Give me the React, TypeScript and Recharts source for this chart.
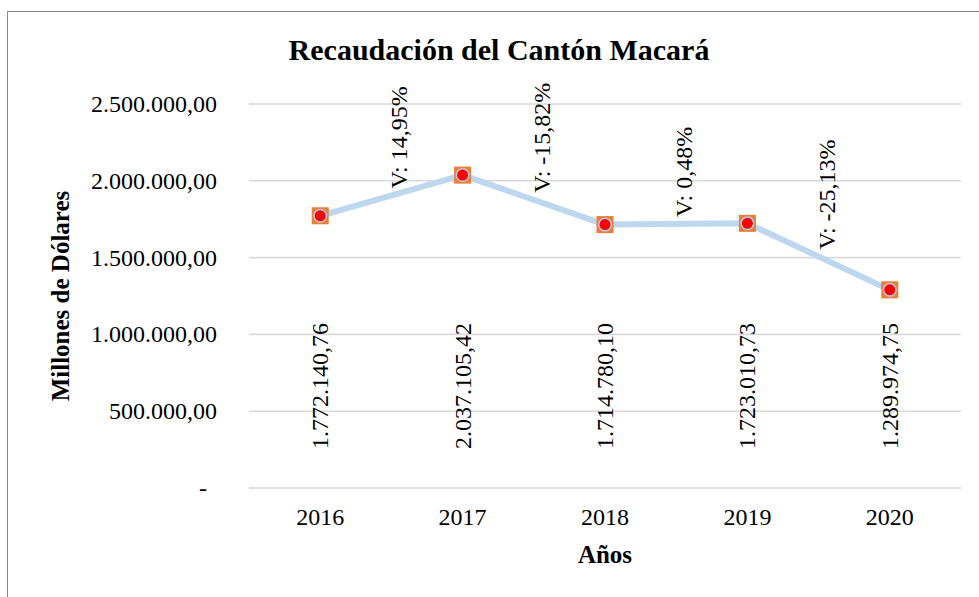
import React from 'react';
import { ComposedChart, Line, Scatter, XAxis, YAxis, CartesianGrid, LabelList } from 'recharts';

const years = ['2016', '2017', '2018', '2019', '2020'];
const values = [1772140.76, 2037105.42, 1714780.1, 1723010.73, 1289974.75];
const valueLabels = ['1.772.140,76', '2.037.105,42', '1.714.780,10', '1.723.010,73', '1.289.974,75'];
const variationLabels = ['V: 14,95%', 'V: -15,82%', 'V: 0,48%', 'V: -25,13%'];
const yTicks = [0, 500000, 1000000, 1500000, 2000000, 2500000];
const yTickLabels = ['-', '500.000,00', '1.000.000,00', '1.500.000,00', '2.000.000,00', '2.500.000,00'];
const xTicks = [0, 1, 2, 3, 4];

const rows = years.map((year, i) => ({ idx: i, year, value: values[i], label: valueLabels[i] }));
const varRows = variationLabels.map((text, i) => ({
  idx: i + 0.5,
  mid: (values[i] + values[i + 1]) / 2,
  text,
}));

const FONT = '"Liberation Serif", "Times New Roman", serif';

const YTick = (props: any) => {
  const { x, y, payload } = props;
  const i = yTicks.indexOf(payload.value);
  const text = i >= 0 ? yTickLabels[i] : '';
  const dx = payload.value === 0 ? -10 : 0;
  return (
    <text x={x + dx} y={y} textAnchor="end" dominantBaseline="central" fontFamily={FONT} fontSize={24} fill="#000">
      {text}
    </text>
  );
};

const XTick = (props: any) => {
  const { x, y, payload } = props;
  return (
    <text x={x} y={y + 17} textAnchor="middle" fontFamily={FONT} fontSize={24} fill="#000">
      {years[payload.value]}
    </text>
  );
};

const YLabel = (props: any) => {
  const vb = props.viewBox || { y: 104, height: 384 };
  const cx = 60;
  const cy = vb.y + vb.height / 2;
  return (
    <text
      x={cx}
      y={cy}
      transform={`rotate(-90 ${cx} ${cy})`}
      textAnchor="middle"
      dominantBaseline="central"
      fontFamily={FONT}
      fontWeight="bold"
      fontSize={25}
      fill="#000"
    >
      Millones de Dólares
    </text>
  );
};

const XLabel = (props: any) => {
  const vb = props.viewBox || { x: 249, width: 712, y: 488 };
  const cx = vb.x + vb.width / 2;
  return (
    <text x={cx} y={vb.y + 75} textAnchor="middle" fontFamily={FONT} fontWeight="bold" fontSize={25} fill="#000">
      Años
    </text>
  );
};

const Marker = (props: any) => {
  const { cx, cy } = props;
  if (cx == null || cy == null) return null;
  return (
    <g>
      <rect x={cx - 8.5} y={cy - 8.5} width={17} height={17} fill="#ED7D31" />
      <circle cx={cx} cy={cy} r={6.3} fill="#FF0000" stroke="#B4C7E7" strokeWidth={1.6} />
    </g>
  );
};

const ValueLabel = (props: any) => {
  const { x, value } = props;
  const cy = 386;
  return (
    <text
      x={x}
      y={cy}
      transform={`rotate(-90 ${x} ${cy})`}
      textAnchor="middle"
      dominantBaseline="central"
      fontFamily={FONT}
      fontSize={24}
      fill="#000"
    >
      {value}
    </text>
  );
};

const VarShape = (props: any) => {
  const { cx, cy, payload } = props;
  if (cx == null || cy == null) return null;
  const x = cx + 8;
  const y = cy - 7;
  return (
    <text
      x={x}
      y={y}
      transform={`rotate(-90 ${x} ${y})`}
      textAnchor="start"
      dominantBaseline="central"
      fontFamily={FONT}
      fontSize={24}
      fill="#000"
    >
      {payload.text}
    </text>
  );
};

export default function App() {
  return (
    <div style={{ position: 'absolute', left: 0, top: 0, width: 979, height: 597, background: '#fff', overflow: 'hidden' }}>
      <div
        style={{
          position: 'absolute',
          left: 7,
          top: 11,
          width: 1000,
          height: 700,
          borderLeft: '1px solid #8a8a8a',
          borderTop: '1px solid #8a8a8a',
        }}
      />
      <div
        style={{
          position: 'absolute',
          left: 199,
          top: 35,
          width: 600,
          textAlign: 'center',
          fontFamily: FONT,
          fontWeight: 'bold',
          fontSize: 30,
          lineHeight: '30px',
          color: '#000',
          whiteSpace: 'nowrap',
        }}
      >
        Recaudación del Cantón Macará
      </div>
      <div style={{ position: 'absolute', left: 0, top: 0 }}>
        <ComposedChart width={979} height={597} data={rows} margin={{ top: 104, right: 18, bottom: 0, left: 0 }}>
          <CartesianGrid vertical={false} stroke="#D9D9D9" strokeWidth={1.6} />
          <XAxis
            dataKey="idx"
            type="number"
            domain={[-0.5, 4.5]}
            ticks={xTicks}
            interval={0}
            axisLine={false}
            tickLine={false}
            tickSize={0}
            tickMargin={20}
            height={109}
            tick={<XTick />}
            label={XLabel}
          />
          <YAxis
            type="number"
            domain={[0, 2500000]}
            ticks={yTicks}
            interval={0}
            axisLine={false}
            tickLine={false}
            tickSize={0}
            tickMargin={32}
            width={249}
            tick={<YTick />}
            label={YLabel}
          />
          <Line
            dataKey="value"
            stroke="#BDD7EE"
            strokeWidth={6}
            strokeLinejoin="round"
            dot={<Marker />}
            activeDot={false}
            isAnimationActive={false}
          >
            <LabelList dataKey="label" content={<ValueLabel />} />
          </Line>
          <Scatter data={varRows} dataKey="mid" shape={<VarShape />} isAnimationActive={false} />
        </ComposedChart>
      </div>
    </div>
  );
}
